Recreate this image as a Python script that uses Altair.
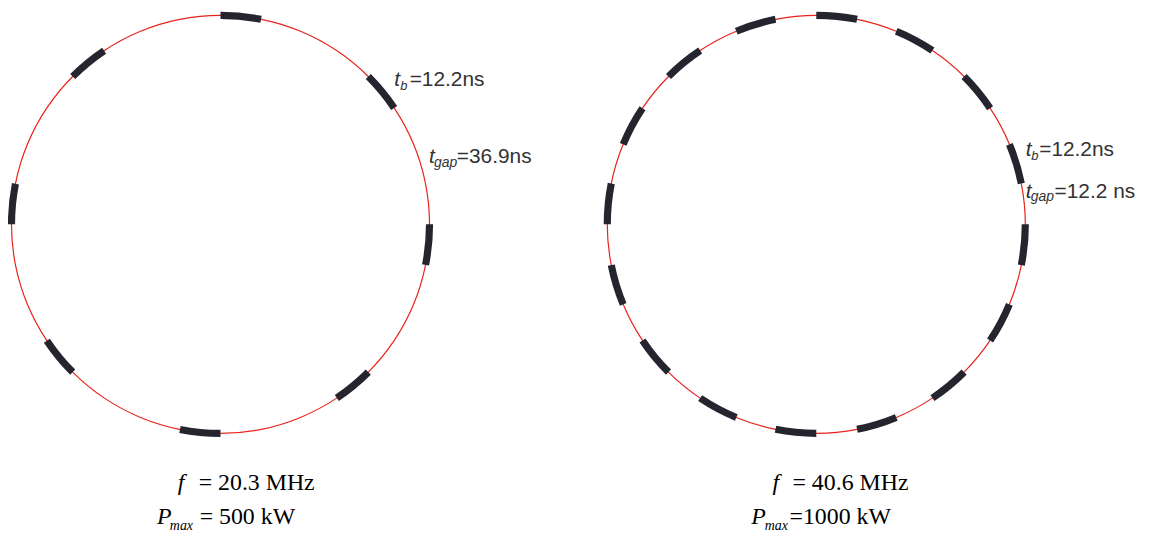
import math
import altair as alt
import pandas as pd

# ---------------- data ----------------
frequencies = ["20.3 MHz", "40.6 MHz"]
powers = ["500 kW", "1000 kW"]
bunch_counts = [8, 16]
t_bunch_ns = [12.2, 12.2]
t_gap_ns = [36.9, 12.2]
tb_texts = ["=12.2ns", "=12.2ns"]
tgap_texts = ["=36.9ns", "=12.2 ns"]
f_texts = ["= 20.3 MHz", "= 40.6 MHz"]
p_texts = ["= 500 kW", "=1000 kW"]

# ---------------- layout (pixels) ----------------
W, H = 1141, 525
CX = [214, 814]
CY = 216
R = 210.5
RING_HALF = 0.6
BUNCH_HALF = 3.6
RED = "#e8231c"
BUNCH_COLOR = "#25252f"

# rings
ring_rows = [{"ring": i, "cx": CX[i], "cy": CY, "theta": 0.0, "theta2": 2 * math.pi}
             for i in range(2)]
ring_df = pd.DataFrame(ring_rows)

# bunches (derived from timing data)
bunch_rows = []
for i in range(2):
    n = bunch_counts[i]
    step = 2 * math.pi / n
    frac = t_bunch_ns[i] / (t_bunch_ns[i] + t_gap_ns[i])
    for k in range(n):
        bunch_rows.append({"ring": i, "cx": CX[i], "cy": CY,
                           "theta": k * step, "theta2": k * step + step * frac})
bunch_df = pd.DataFrame(bunch_rows)

# text pieces: (text, x, y, size, group)
lab = [
    # left ring annotations
    ("t", 389, 77, 21, "sans_it"), ("b", 395, 81, 13, "sans_it"), (tb_texts[0], 404.5, 77, 21, "sans"),
    ("t", 424, 154, 21, "sans_it"), ("gap", 429, 158, 14, "sans_it"), (tgap_texts[0], 452, 154, 21, "sans"),
    # right ring annotations
    ("t", 1025, 147, 21, "sans_it"), ("b", 1030.5, 151, 13, "sans_it"), (tb_texts[1], 1038.5, 147, 21, "sans"),
    ("t", 1025, 189, 21, "sans_it"), ("gap", 1030, 193, 14, "sans_it"), (tgap_texts[1], 1054, 189, 21, "sans"),
    # bottom captions
    ("f", 171, 484, 24, "serif_it"), (f_texts[0], 192, 484, 24, "serif"),
    ("P", 150, 518, 24, "serif_it"), ("max", 163, 524, 14, "serif_it"), (p_texts[0], 193, 518, 24, "serif"),
    ("f", 770, 484, 24, "serif_it"), (f_texts[1], 790, 484, 24, "serif"),
    ("P", 748.5, 518, 24, "serif_it"), ("max", 762, 524, 14, "serif_it"), (p_texts[1], 787, 518, 24, "serif"),
]
text_df = pd.DataFrame(lab, columns=["text", "x", "y", "size", "group"])

enc_pos = dict(
    x=alt.X("cx:Q", scale=None, axis=None),
    y=alt.Y("cy:Q", scale=None, axis=None),
    theta=alt.Theta("theta:Q", scale=None, stack=None),
    theta2=alt.Theta2("theta2:Q"),
)

ring = alt.Chart(ring_df).mark_arc(
    radius=R + RING_HALF, radius2=R - RING_HALF, color=RED, strokeWidth=0
).encode(**enc_pos)

bunches = alt.Chart(bunch_df).mark_arc(
    radius=R + BUNCH_HALF, radius2=R - BUNCH_HALF, color=BUNCH_COLOR, strokeWidth=0
).encode(**enc_pos)


def text_layer(group, font, style, color):
    return alt.Chart(text_df).transform_filter(
        alt.datum.group == group
    ).mark_text(
        font=font, fontStyle=style, align="left", baseline="alphabetic", color=color
    ).encode(
        x=alt.X("x:Q", scale=None, axis=None),
        y=alt.Y("y:Q", scale=None, axis=None),
        size=alt.Size("size:Q", scale=None, legend=None),
        text="text:N",
    )


texts = [
    text_layer("sans_it", "Liberation Sans", "italic", "#333333"),
    text_layer("sans", "Liberation Sans", "normal", "#333333"),
    text_layer("serif_it", "Liberation Serif", "italic", "#000000"),
    text_layer("serif", "Liberation Serif", "normal", "#000000"),
]

chart = alt.layer(ring, bunches, *texts).properties(
    width=W, height=H, autosize=alt.AutoSizeParams(type="none"), padding=0,
    background="white",
).configure_view(stroke=None)

chart.save("out.html", embed_options={"renderer": "svg", "actions": False})
